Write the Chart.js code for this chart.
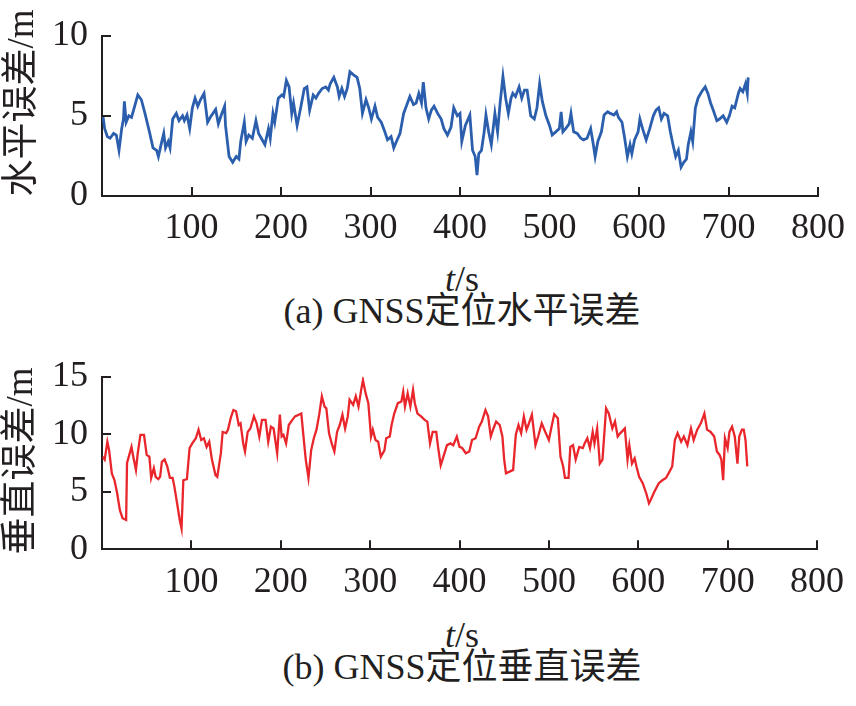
<!DOCTYPE html>
<html>
<head>
<meta charset="utf-8">
<script src="https://cdn.jsdelivr.net/npm/chart.js@4.4.1/dist/chart.umd.min.js"></script>
<style>
  html, body { margin:0; padding:0; background:#fff; }
  #wrap { position:relative; width:856px; height:706px; overflow:hidden; background:#fff; }
  canvas { position:absolute; left:0; }
  .txt { position:absolute; left:102px; width:720px; text-align:center; white-space:nowrap;
         font-family:"Liberation Serif","Times New Roman",Tinos,"DejaVu Serif","Noto Sans CJK SC",serif;
         font-size:36px; line-height:36px; color:#231f20; }
  .ytitle { position:absolute; width:240px; height:38px; text-align:center; white-space:nowrap;
         font-family:"Liberation Serif","Times New Roman",Tinos,"DejaVu Serif","Noto Sans CJK SC",serif;
         font-size:37px; line-height:38px; color:#231f20; transform:rotate(-90deg); transform-origin:50% 50%; }
</style>
</head>
<body>
<div id="wrap">
  <canvas id="cA" width="856" height="250" style="top:0px"></canvas>
  <canvas id="cB" width="856" height="264" style="top:340px"></canvas>
  <div class="ytitle" style="left:-99px; top:84px">水平误差/m</div>
  <div class="ytitle" style="left:-100px; top:442px">垂直误差/m</div>
  <div class="txt" style="top:261px"><i>t</i>/s</div>
  <div class="txt" style="top:293px">(a) GNSS定位水平误差</div>
  <div class="txt" style="top:617px"><i>t</i>/s</div>
  <div class="txt" style="top:649px">(b) GNSS定位垂直误差</div>
</div>
<script>
// ---- data ----
const xTicks = [100, 200, 300, 400, 500, 600, 700, 800];
const horizT = [1,3,6,9,13,16,19,22,24,25,27,30,33,37,40,44,48,53,57,61,63,66,69,71,74,76,79,83,86,90,92,95,98,101,104,107,110,114,118,122,124,127,130,133,137,138,142,146,150,153,155,159,161,164,168,172,175,178,182,186,188,191,193,197,201,203,206,209,212,214,218,222,226,229,232,236,239,242,246,250,253,255,259,263,265,268,271,274,277,281,285,288,291,295,298,301,305,308,312,316,319,323,326,329,333,337,340,344,348,351,354,357,359,362,365,368,371,375,379,382,386,390,393,397,400,402,406,411,414,417,419,421,424,427,429,432,435,439,442,445,448,451,454,457,459,462,466,469,472,475,479,483,486,489,492,496,500,503,507,511,513,515,518,522,524,527,531,535,538,542,546,549,551,554,558,561,565,568,572,575,577,581,584,587,590,592,595,599,601,604,608,612,616,619,622,625,628,632,635,638,641,644,647,650,653,655,658,660,663,666,670,674,677,680,683,687,690,694,698,701,704,707,711,713,716,719,721,722];
const horizErr = [5.0,4.2,3.7,3.6,3.9,3.8,2.85,4.2,4.8,5.9,4.6,5.0,4.9,5.7,6.3,6.0,5.15,4.0,3.0,2.85,2.46,3.2,3.9,3.0,3.4,3.0,4.8,5.15,4.7,5.0,4.7,5.05,4.2,5.5,6.1,5.6,6.0,6.4,4.6,5.0,5.15,5.4,4.5,5.0,5.6,4.4,2.46,2.1,2.46,2.3,3.4,4.6,3.4,3.8,3.6,4.7,3.9,3.6,3.2,4.2,3.6,5.15,4.6,6.1,6.3,6.2,7.2,6.8,5.15,5.8,4.4,5.5,6.7,6.8,5.35,6.3,6.1,6.4,6.7,6.8,6.6,7.0,7.4,6.8,6.2,6.7,6.2,6.7,7.75,7.55,7.4,6.7,5.15,6.0,5.5,4.8,5.6,4.9,4.6,4.0,3.5,3.7,3.0,3.4,3.9,5.15,5.6,6.2,5.7,5.8,6.4,5.8,7.1,5.5,4.8,5.35,5.6,5.15,4.8,4.2,3.8,4.3,5.5,5.0,5.15,3.4,4.4,5.05,2.85,2.46,1.3,2.65,2.85,4.0,5.05,4.0,3.2,5.15,4.0,5.9,7.45,6.1,5.15,6.1,6.4,6.2,6.8,6.1,6.6,6.6,5.0,4.8,5.5,7.0,5.9,5.0,4.4,3.8,4.0,4.2,5.25,4.0,4.2,4.5,5.15,4.0,3.9,3.6,3.5,3.6,4.2,3.2,2.46,3.4,4.0,5.05,5.25,5.15,5.05,5.25,4.9,4.6,3.6,2.46,3.2,2.65,3.5,4.0,4.8,4.2,3.5,4.2,5.0,5.35,5.5,4.8,5.15,5.0,4.0,3.2,2.46,2.85,1.8,2.1,2.3,3.2,4.0,3.4,5.5,6.1,6.5,6.8,6.4,5.8,5.35,4.7,4.8,5.0,4.6,5.0,5.6,5.5,6.4,6.7,6.5,7.0,6.4,7.4];
const vertT = [1,3,6,8,11,14,17,20,23,27,28,30,33,35,38,40,43,47,50,53,55,58,60,63,65,67,70,73,76,79,81,84,87,89,91,95,98,101,105,108,111,114,117,120,123,127,129,133,135,139,141,144,147,150,153,155,158,160,163,166,170,173,176,179,183,186,189,192,196,199,201,203,206,209,213,216,220,223,226,228,231,234,237,240,243,246,249,251,254,257,260,263,266,269,272,275,277,281,284,287,290,292,295,298,301,303,306,309,312,316,318,322,324,327,331,335,337,339,342,345,348,350,353,357,361,364,367,370,374,376,379,382,386,390,393,397,400,403,407,411,414,418,422,425,429,432,435,438,441,445,448,450,452,456,460,463,466,469,472,475,477,481,485,488,492,496,500,503,506,510,513,516,518,522,524,527,530,534,538,540,543,546,549,551,554,557,560,564,567,571,574,577,580,585,588,590,593,596,598,601,605,609,612,614,618,623,627,631,635,638,641,644,648,651,655,659,662,666,670,674,677,681,685,688,691,693,695,697,700,702,705,708,711,713,716,718,720,722];
const vertErr = [8.05,7.8,9.35,8.6,6.6,6.0,4.85,3.4,2.7,2.55,7.5,8.05,8.9,8.05,6.9,8.35,9.95,9.95,8.2,8.05,6.2,7.05,6.3,6.1,6.3,7.6,7.8,7.2,6.2,6.2,5.45,4.0,2.55,1.8,6.0,6.1,8.8,9.2,9.65,10.4,9.5,9.65,8.9,9.35,7.8,6.45,6.3,8.35,10.2,10.1,10.4,11.4,12.1,12.0,10.8,10.95,9.2,8.5,10.2,10.5,11.55,10.95,9.8,11.25,11.25,9.35,10.65,10.5,8.35,11.7,9.8,9.95,9.2,10.8,11.25,11.55,11.7,11.8,9.35,7.8,6.2,8.6,9.65,10.4,11.7,13.3,12.4,12.25,10.1,9.2,8.5,10.2,10.8,11.7,10.5,11.55,13.0,12.55,13.3,12.4,13.85,14.7,13.55,12.7,9.8,10.4,9.5,9.35,8.05,8.6,9.65,9.8,10.8,11.8,12.7,12.85,13.7,12.4,13.55,12.4,13.85,12.7,11.8,11.55,11.25,11.1,9.2,10.2,10.2,8.9,7.3,8.05,9.05,9.2,9.05,9.8,8.9,8.8,8.35,8.5,9.5,9.65,10.65,11.1,12.1,11.55,9.8,10.5,11.1,10.8,9.8,7.8,6.6,6.75,6.9,9.95,10.8,10.1,11.55,10.4,10.8,11.7,9.05,9.8,10.95,10.2,9.5,10.65,11.75,11.4,8.05,7.2,6.2,6.2,8.9,9.05,7.8,8.9,8.8,9.2,9.65,8.8,10.2,9.2,10.5,7.45,7.8,12.25,11.8,10.5,11.1,9.8,10.1,10.5,7.8,9.05,7.45,7.9,7.2,6.3,5.75,4.85,4.0,4.3,5.0,5.75,6.0,6.2,6.75,7.2,9.5,10.1,9.35,9.8,9.05,10.5,9.5,10.4,10.95,11.8,10.4,10.2,9.8,8.5,8.2,7.8,6.0,9.65,8.8,10.2,10.65,9.8,7.45,9.8,10.4,10.4,9.5,7.2];

const FONT_FAMILY = '"Liberation Serif", "Times New Roman", Tinos, "DejaVu Serif", "Noto Sans CJK SC", serif';
const INK = '#231f20';

const inwardTicks = {
  id: 'inwardTicks',
  afterDraw(chart) {
    const { ctx, chartArea: a, scales: { x, y } } = chart;
    ctx.save();
    ctx.strokeStyle = INK;
    ctx.lineWidth = 2;
    ctx.beginPath();
    x.ticks.forEach(t => {
      if (t.value === 0) return;
      const px = Math.round(x.getPixelForValue(t.value));
      ctx.moveTo(px, a.bottom);
      ctx.lineTo(px, a.bottom - 9);
    });
    y.ticks.forEach(t => {
      if (t.value === 0) return;
      const py = Math.round(y.getPixelForValue(t.value));
      ctx.moveTo(a.left, py);
      ctx.lineTo(a.left + 9, py);
    });
    ctx.stroke();
    ctx.restore();
  }
};

function makeChart(id, ts, vs, color, lw, ymax, padTop, xH, xPad) {
  return new Chart(document.getElementById(id), {
    type: 'line',
    data: {
      datasets: [{
        data: ts.map((t, i) => ({ x: t, y: vs[i] })),
        borderColor: color,
        borderWidth: lw,
        pointRadius: 0,
        tension: 0,
        fill: false
      }]
    },
    options: {
      responsive: false,
      animation: false,
      devicePixelRatio: 1,
      layout: { padding: { top: padTop, right: 34, left: 0, bottom: 0 } },
      plugins: { legend: { display: false }, tooltip: { enabled: false } },
      scales: {
        x: {
          type: 'linear', min: 0, max: 800,
          afterBuildTicks: s => { s.ticks = [0].concat(xTicks).map(v => ({ value: v })); },
          ticks: {
            padding: xPad, color: INK, maxRotation: 0, autoSkip: false,
            font: { family: FONT_FAMILY, size: 36 },
            callback: v => (v === 0 ? '' : String(v))
          },
          grid: { display: false, drawTicks: false },
          border: { display: true, color: INK, width: 2 },
          afterFit: s => { s.height = xH; }
        },
        y: {
          min: 0, max: ymax,
          ticks: {
            stepSize: 5, padding: 14, color: INK,
            font: { family: FONT_FAMILY, size: 36 }
          },
          grid: { display: false, drawTicks: false },
          border: { display: true, color: INK, width: 2 },
          title: { display: false },
          afterFit: s => { s.width = 102; }
        }
      }
    },
    plugins: [inwardTicks]
  });
}

makeChart('cA', horizT, horizErr, '#2b5fad', 2.8, 10, 22.7, 54, 11);
makeChart('cB', vertT, vertErr, '#e8262b', 2.3, 15, 36.7, 54.7, 12);
</script>
</body>
</html>
